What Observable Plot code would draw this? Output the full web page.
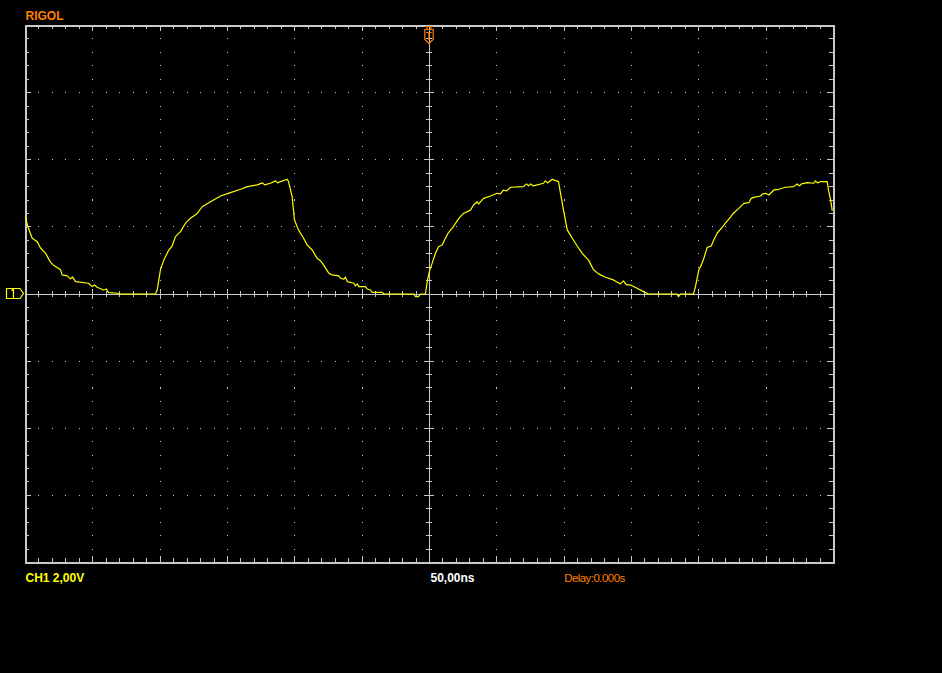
<!DOCTYPE html>
<html><head><meta charset="utf-8">
<script src="https://cdn.jsdelivr.net/npm/d3@7"></script>
<script src="https://cdn.jsdelivr.net/npm/@observablehq/plot@0.6"></script>
<style>html,body{margin:0;padding:0;background:#000;overflow:hidden}</style>
</head><body><div id="chart"></div>
<script>
// Captured trace: time (ns, relative to trigger) and voltage (V)
const timeNs = [-300.0,-298.3,-295.0,-291.3,-288.9,-285.2,-281.5,-279.2,-274.0,-272.8,-269.0,-266.6,-265.1,-262.9,-253.2,-250.5,-248.8,-246.8,-242.1,-239.9,-238.4,-233.2,-229.5,-203.5,-202.2,-199.8,-197.3,-193.6,-191.1,-188.6,-184.9,-181.2,-177.5,-172.5,-168.8,-162.6,-155.2,-147.8,-140.3,-135.4,-128.0,-124.0,-122.5,-118.1,-114.4,-112.9,-110.6,-105.7,-104.7,-102.0,-100.3,-97.3,-93.6,-90.8,-87.1,-83.4,-80.9,-78.5,-77.2,-74.8,-72.3,-67.4,-66.1,-63.6,-62.4,-61.1,-56.2,-55.0,-53.7,-52.5,-47.5,-46.3,-43.8,-42.6,-35.1,-33.9,-11.6,-10.4,-8.2,-6.7,-3.0,-1.7,0.2,2.0,4.5,6.7,9.4,11.9,14.1,17.8,21.5,25.2,30.4,32.7,35.4,36.4,40.1,45.3,50.3,52.7,55.0,57.2,60.2,69.8,72.0,73.5,75.0,77.2,84.7,86.1,87.6,91.1,92.1,95.8,97.3,99.5,102.3,106.0,109.7,113.4,118.1,121.8,125.5,130.7,136.6,141.8,144.0,146.3,149.3,154.2,158.9,162.6,183.9,184.9,186.4,196.0,197.5,200.0,201.8,203.7,206.2,209.2,211.1,213.6,217.4,219.8,223.5,225.5,229.7,233.4,237.1,238.9,240.8,245.8,247.2,249.5,252.0,255.7,259.4,264.4,270.5,273.0,274.8,276.2,280.5,285.4,286.6,288.1,290.4,295.3,296.5,297.8,299.0];
const volts = [2.30,2.01,1.66,1.56,1.37,1.22,0.95,0.86,0.72,0.57,0.54,0.45,0.51,0.37,0.32,0.22,0.27,0.20,0.12,0.15,0.04,0.03,0,0,0.12,0.72,1.01,1.31,1.43,1.71,1.86,2.11,2.26,2.40,2.60,2.75,2.92,3.02,3.12,3.20,3.25,3.31,3.25,3.30,3.37,3.31,3.35,3.42,3.35,2.90,2.21,1.91,1.67,1.46,1.31,1.06,0.99,0.86,0.77,0.62,0.57,0.54,0.47,0.44,0.50,0.37,0.32,0.24,0.30,0.22,0.22,0.15,0.12,0.05,0.05,0,0,-0.08,-0.08,0,0,0.37,0.72,0.92,1.22,1.41,1.46,1.67,1.83,2.01,2.24,2.40,2.50,2.65,2.75,2.68,2.85,2.92,3.00,2.98,3.10,3.07,3.18,3.20,3.28,3.22,3.28,3.22,3.30,3.37,3.31,3.42,3.40,3.35,3.00,2.50,1.91,1.66,1.43,1.21,1.01,0.72,0.60,0.50,0.42,0.30,0.39,0.27,0.27,0.17,0.07,0,0,-0.08,0,0,0.22,0.72,0.86,1.06,1.39,1.43,1.61,1.81,1.99,2.11,2.29,2.40,2.55,2.70,2.72,2.85,2.88,2.92,2.98,3.00,2.95,3.10,3.12,3.18,3.20,3.28,3.22,3.28,3.32,3.30,3.37,3.31,3.35,3.35,3.05,2.82,2.50];

// Screen divisions: 12 x 50 ns, 8 x 2 V
const timeDivs = [-300,-250,-200,-150,-100,-50,0,50,100,150,200,250,300];
const voltDivs = [-8,-6,-4,-2,0,2,4,6,8];
const timeSub = d3.range(-300, 300.001, 10).map(t => Math.round(t));
const voltSub = d3.range(-8, 8.001, 0.4).map(v => +v.toFixed(1));

const brandLabel = "RIGOL";
const channelLabel = "CH1 2,00V";
const timebaseLabel = "50,00ns";
const delayLabel = "Delay:0.000s";

const W = 942, H = 673, ML = 25, MR = 109, MT = 25, MB = 111;
const nsPerPx = 600 / (W - ML - MR), vPerPx = 16 / (H - MT - MB);
const GRAY = "#c8c8c8", YEL = "#ffff00", ORA = "#ff8000";

const trace = timeNs.map((t, i) => ({t, v: volts[i]}));
const gridDots = [];
for (const t of timeDivs.filter(t => t !== 0 && Math.abs(t) !== 300)) for (const v of voltSub) gridDots.push({t, v});
for (const v of voltDivs.filter(v => v !== 0 && Math.abs(v) !== 8)) for (const t of timeSub) gridDots.push({t, v});

const isMajT = t => timeDivs.includes(t);
const isMajV = v => voltDivs.includes(v);
const font = "'Liberation Sans', Arial, sans-serif";

const plot = Plot.plot({
  width: W, height: H, marginLeft: ML, marginRight: MR, marginTop: MT, marginBottom: MB,
  style: {background: "black", color: GRAY},
  x: {domain: [-300, 300], axis: null},
  y: {domain: [-8, 8], axis: null},
  marks: [
    Plot.dot(gridDots, {x: "t", y: "v", r: 0.6, symbol: "square", fill: "#c8c8c8", stroke: null, shapeRendering: "crispEdges"}),
    Plot.ruleX([0], {stroke: GRAY, strokeWidth: 1, shapeRendering: "crispEdges"}),
    Plot.ruleY([0], {stroke: GRAY, strokeWidth: 1, shapeRendering: "crispEdges"}),
    // center-axis ticks
    Plot.ruleX(timeSub, {x: d => d, y1: d => -(isMajT(d) ? 5 : 3) * vPerPx, y2: d => (isMajT(d) ? 5 : 3) * vPerPx, stroke: GRAY, shapeRendering: "crispEdges"}),
    Plot.ruleY(voltSub, {y: d => d, x1: d => -(isMajV(d) ? 5 : 3) * nsPerPx, x2: d => (isMajV(d) ? 5 : 3) * nsPerPx, stroke: GRAY, shapeRendering: "crispEdges"}),
    // border ticks
    Plot.ruleX(timeSub, {x: d => d, y1: 8, y2: d => 8 - (isMajT(d) ? 6 : 4) * vPerPx, stroke: GRAY, shapeRendering: "crispEdges"}),
    Plot.ruleX(timeSub, {x: d => d, y1: -8, y2: d => -8 + (isMajT(d) ? 6 : 4) * vPerPx, stroke: GRAY, shapeRendering: "crispEdges"}),
    Plot.ruleY(voltSub, {y: d => d, x1: -300, x2: d => -300 + (isMajV(d) ? 6 : 4) * nsPerPx, stroke: GRAY, shapeRendering: "crispEdges"}),
    Plot.ruleY(voltSub, {y: d => d, x1: 300, x2: d => 300 - (isMajV(d) ? 6 : 4) * nsPerPx, stroke: GRAY, shapeRendering: "crispEdges"}),
    Plot.frame({stroke: GRAY, strokeWidth: 2, shapeRendering: "crispEdges"}),
    Plot.line(trace, {x: "t", y: "v", stroke: YEL, strokeWidth: 1.2}),
    Plot.text([brandLabel], {text: d => d, frameAnchor: "top-left", textAnchor: "start", lineAnchor: "middle", dy: -9, fill: ORA, fontWeight: "bold", fontSize: 12, fontFamily: font}),
    Plot.text([channelLabel], {text: d => d, frameAnchor: "bottom-left", textAnchor: "start", lineAnchor: "middle", dy: 16, fill: YEL, fontWeight: "bold", fontSize: 12, fontFamily: font}),
    Plot.text([timebaseLabel], {text: d => d, x: [0], frameAnchor: "bottom", textAnchor: "start", lineAnchor: "middle", dx: 1, dy: 16, fill: "#ffffff", fontWeight: "bold", fontSize: 12, fontFamily: font}),
    Plot.text([delayLabel], {text: d => d, x: [100], frameAnchor: "bottom", textAnchor: "start", lineAnchor: "middle", dy: 16, fill: ORA, fontSize: 11.5, fontFamily: font})
  ]
});
document.getElementById("chart").appendChild(plot);

const svg = d3.select(plot);
// condense the delay read-out like the scope's narrow font
svg.selectAll("text").filter(function() { return this.textContent === delayLabel; })
  .style("letter-spacing", "-0.55px");

// Channel ground marker and trigger-position marker
const y0 = plot.scale("y").apply(0);
const x0 = plot.scale("x").apply(0);
const g = svg.append("g").attr("fill", "none").attr("stroke-width", 1.2);
g.append("path").attr("stroke", YEL)
  .attr("d", `M${ML-18.5},${y0-5} H${ML-5} L${ML-1.5},${y0} L${ML-5},${y0+5} H${ML-18.5} Z M${ML-11.5},${y0-5} V${y0+5} M${ML-13.5},${y0-3} L${ML-11.5},${y0-4.5}`);
g.append("path").attr("stroke", ORA)
  .attr("d", `M${x0-4},${MT+1.5} H${x0+4} M${x0-2},${MT+1.5} V${MT+4} M${x0+2},${MT+1.5} V${MT+4} M${x0-4.2},${MT+4.5} H${x0+4.2} V${MT+14.5} L${x0},${MT+18.5} L${x0-4.2},${MT+14.5} Z M${x0-2.8},${MT+7.5} H${x0+2.8} M${x0},${MT+7.5} V${MT+15}`);
</script>
</body></html>
